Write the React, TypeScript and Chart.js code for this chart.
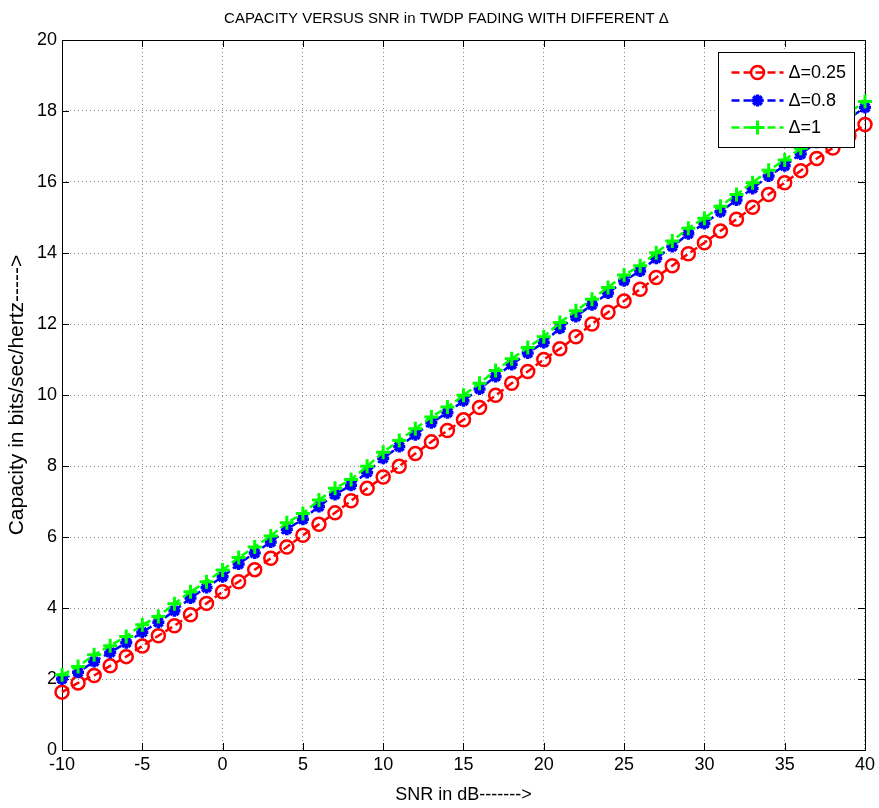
import React, { useEffect, useRef } from 'react';
import { Chart, registerables } from 'chart.js';
import { drawPoint } from 'chart.js/helpers';

Chart.register(...registerables);

const TITLE = 'CAPACITY VERSUS SNR in TWDP FADING WITH DIFFERENT \u0394';
const X_TITLE = 'SNR in dB------->';
const Y_TITLE = 'Capacity in bits/sec/hertz----->';

const snrDb = [
  -10, -9, -8, -7, -6, -5, -4, -3, -2, -1, 0, 1, 2, 3, 4, 5, 6, 7, 8, 9, 10,
  11, 12, 13, 14, 15, 16, 17, 18, 19, 20, 21, 22, 23, 24, 25, 26, 27, 28, 29, 30,
  31, 32, 33, 34, 35, 36, 37, 38, 39, 40,
];

const capDelta025 = [
  1.63, 1.89, 2.10, 2.37, 2.63, 2.93, 3.22, 3.50, 3.81, 4.13, 4.46, 4.74, 5.08, 5.40, 5.72, 6.05, 6.36, 6.68, 7.02, 7.37, 7.69,
  7.99, 8.35, 8.68, 9.00, 9.30, 9.65, 9.99, 10.33, 10.66, 11.00, 11.30, 11.64, 12.00, 12.33, 12.65, 12.98, 13.31, 13.64, 13.98, 14.29,
  14.62, 14.95, 15.29, 15.65, 15.98, 16.32, 16.66, 16.96, 17.30, 17.62,
];

const capDelta08 = [
  2.00, 2.19, 2.49, 2.75, 3.02, 3.32, 3.60, 3.92, 4.28, 4.58, 4.88, 5.24, 5.55, 5.86, 6.22, 6.50, 6.86, 7.20, 7.46, 7.82, 8.22,
  8.55, 8.88, 9.22, 9.50, 9.84, 10.17, 10.52, 10.86, 11.18, 11.48, 11.88, 12.21, 12.54, 12.87, 13.22, 13.49, 13.85, 14.18, 14.54, 14.83,
  15.16, 15.49, 15.82, 16.17, 16.46, 16.79, 17.12, 17.46, 17.79, 18.10,
];

const capDelta1 = [
  2.12, 2.35, 2.68, 2.94, 3.20, 3.53, 3.76, 4.12, 4.46, 4.74, 5.07, 5.42, 5.72, 6.03, 6.40, 6.66, 7.04, 7.37, 7.62, 7.99, 8.39,
  8.72, 9.05, 9.38, 9.66, 9.99, 10.33, 10.69, 11.02, 11.34, 11.64, 12.04, 12.37, 12.70, 13.03, 13.38, 13.64, 14.01, 14.34, 14.70, 14.98,
  15.32, 15.65, 15.98, 16.33, 16.62, 16.95, 17.28, 17.62, 17.95, 18.27,
];

const seriesLabels = ['\u0394=0.25', '\u0394=0.8', '\u0394=1'];
const seriesColors = ['#ff0000', '#0000ff', '#00ff00'];

const xTickValues = [-10, -5, 0, 5, 10, 15, 20, 25, 30, 35, 40];
const yTickValues = [0, 2, 4, 6, 8, 10, 12, 14, 16, 18, 20];

const FONT = '"Liberation Sans", Arial, Helvetica, sans-serif';

const framePlugin = {
  id: 'matlabFrame',
  beforeDatasetsDraw(chart: any) {
    const { ctx, chartArea: a, scales } = chart;
    ctx.save();
    ctx.strokeStyle = '#000';
    ctx.lineWidth = 1;
    ctx.setLineDash([]);
    const L = 7;
    ctx.beginPath();
    for (const v of xTickValues) {
      const px = Math.round(scales.x.getPixelForValue(v)) + 0.5;
      ctx.moveTo(px, a.bottom);
      ctx.lineTo(px, a.bottom - L);
      ctx.moveTo(px, a.top);
      ctx.lineTo(px, a.top + L);
    }
    for (const v of yTickValues) {
      const py = Math.round(scales.y.getPixelForValue(v)) + 0.5;
      ctx.moveTo(a.left, py);
      ctx.lineTo(a.left + L, py);
      ctx.moveTo(a.right, py);
      ctx.lineTo(a.right - L, py);
    }
    ctx.stroke();
    ctx.strokeRect(
      Math.round(a.left) + 0.5,
      Math.round(a.top) + 0.5,
      Math.round(a.right - a.left),
      Math.round(a.bottom - a.top)
    );
    ctx.restore();
  },
  afterDatasetsDraw(chart: any) {
    const { ctx, chartArea: a } = chart;
    const boxW = 136;
    const boxH = 95;
    const bx = Math.round(a.right) - 11 - boxW + 0.5;
    const by = Math.round(a.top) + 12 + 0.5;
    ctx.save();
    ctx.fillStyle = '#ffffff';
    ctx.fillRect(bx, by, boxW, boxH);
    ctx.strokeStyle = '#000';
    ctx.lineWidth = 1;
    ctx.setLineDash([]);
    ctx.strokeRect(bx, by, boxW, boxH);
    const rows = [20, 48, 75];
    chart.data.datasets.forEach((ds: any, i: number) => {
      const y = by + rows[i];
      ctx.save();
      ctx.strokeStyle = ds.borderColor;
      ctx.lineWidth = ds.borderWidth;
      ctx.setLineDash(ds.borderDash || []);
      ctx.beginPath();
      ctx.moveTo(bx + 13, y);
      ctx.lineTo(bx + 65, y);
      ctx.stroke();
      ctx.setLineDash([]);
      ctx.fillStyle = 'rgba(0,0,0,0)';
      ctx.lineWidth = ds.pointBorderWidth;
      drawPoint(ctx, { pointStyle: ds.pointStyle, rotation: 0, radius: ds.pointRadius, borderWidth: ds.pointBorderWidth }, bx + 39, y);
      ctx.restore();
      ctx.fillStyle = '#000';
      ctx.font = '18px ' + FONT;
      ctx.textAlign = 'left';
      ctx.textBaseline = 'middle';
      ctx.fillText(ds.label, bx + 70, y + 1);
    });
    ctx.restore();
  },
};

export default function App() {
  const canvasRef = useRef<HTMLCanvasElement | null>(null);

  useEffect(() => {
    document.body.style.margin = '0';
    document.body.style.overflow = 'hidden';
    const canvas = canvasRef.current;
    if (!canvas) return;

    const makeDs = (label: string, data: number[], color: string, style: string, order: number, radius: number, bw: number) => ({
      label,
      data: snrDb.map((x, i) => ({ x, y: data[i] })),
      borderColor: color,
      backgroundColor: color,
      borderWidth: 2.5,
      borderDash: [8, 4],
      pointStyle: style,
      pointRadius: radius,
      pointBorderWidth: bw,
      pointBorderColor: color,
      pointBackgroundColor: 'rgba(0,0,0,0)',
      pointHoverRadius: radius,
      tension: 0,
      order,
      clip: false,
    });

    const chart = new Chart(canvas, {
      type: 'line',
      data: {
        datasets: [
          makeDs(seriesLabels[0], capDelta025, seriesColors[0], 'circle', 2, 6.5, 2.5),
          makeDs(seriesLabels[1], capDelta08, seriesColors[1], 'star', 1, 6, 3.5),
          makeDs(seriesLabels[2], capDelta1, seriesColors[2], 'cross', 0, 7, 3),
        ],
      },
      options: {
        responsive: false,
        animation: false,
        events: [],
        layout: { padding: { left: 26, right: 12, top: 0, bottom: 0 } },
        plugins: {
          legend: { display: false },
          tooltip: { enabled: false },
          title: {
            display: true,
            text: TITLE,
            color: '#000',
            font: { family: FONT, size: 15, weight: 'normal' },
            padding: { top: 10, bottom: 12 },
          },
        },
        scales: {
          x: {
            type: 'linear',
            min: -10,
            max: 40,
            afterBuildTicks: (scale: any) => {
              scale.ticks = xTickValues.map((v) => ({ value: v }));
            },
            afterFit: (scale: any) => {
              scale.height = 58;
            },
            ticks: {
              color: '#000',
              font: { family: FONT, size: 18 },
              padding: 4,
              maxRotation: 0,
              autoSkip: false,
            },
            grid: {
              color: 'rgba(0,0,0,0.45)',
              lineWidth: 1,
              drawTicks: false,
            },
            border: { display: false, dash: [1, 3] },
            title: {
              display: true,
              text: X_TITLE,
              color: '#000',
              font: { family: FONT, size: 18 },
              padding: { top: 0, bottom: 2 },
            },
          },
          y: {
            type: 'linear',
            min: 0,
            max: 20,
            afterBuildTicks: (scale: any) => {
              scale.ticks = yTickValues.map((v) => ({ value: v }));
            },
            afterFit: (scale: any) => {
              scale.width = 36;
            },
            ticks: {
              color: '#000',
              font: { family: FONT, size: 18 },
              padding: 5,
              autoSkip: false,
            },
            grid: {
              color: 'rgba(0,0,0,0.45)',
              lineWidth: 1,
              drawTicks: false,
            },
            border: { display: false, dash: [1, 3] },
            title: {
              display: true,
              text: Y_TITLE,
              color: '#000',
              font: { family: FONT, size: 21 },
              padding: { top: -21, bottom: 0 },
            },
          },
        },
      },
      plugins: [framePlugin],
    } as any);

    return () => {
      chart.destroy();
    };
  }, []);

  return (
    <div style={{ width: 879, height: 808 }}>
      <canvas ref={canvasRef} width={879} height={808} style={{ display: 'block' }} />
    </div>
  );
}
